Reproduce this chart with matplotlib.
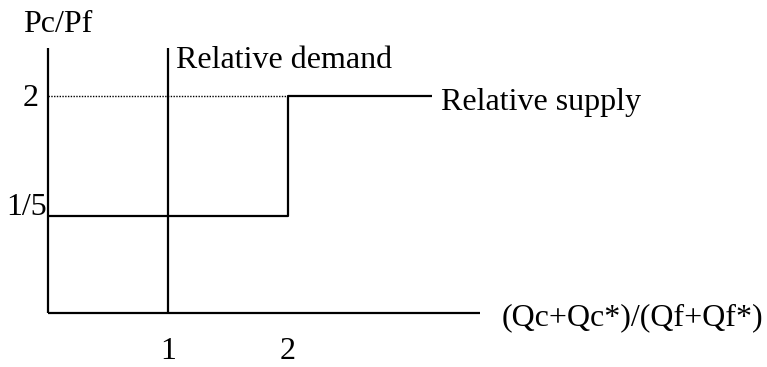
import matplotlib.pyplot as plt

# Diagram values (plotting positions, not to scale)
price_labels = ["1/5", "2"]
price_pos = [0.81, 1.81]
qty_labels = ["1", "2"]
qty_pos = [1.0, 2.0]

demand_q = 1.0          # relative demand is vertical at 1
supply_x = [0.0, 2.0, 2.0, 3.2]
supply_y = [price_pos[0], price_pos[0], price_pos[1], price_pos[1]]

plt.rcParams['font.family'] = ['Liberation Serif', 'DejaVu Serif']

fig = plt.figure(figsize=(7.67, 3.67), dpi=100)
ax = fig.add_axes([0, 0, 1, 1])
ax.set_xlim(-0.4, 5.99)
ax.set_ylim(-0.45, 2.608)
ax.axis('off')

fs = 23
lw = 1.6

# axes of the diagram
ax.plot([0, 0], [0, 2.21], color='black', lw=lw, solid_capstyle='butt')
ax.plot([0, 3.6], [0, 0], color='black', lw=lw, solid_capstyle='butt')

# dotted guide at the upper price
ax.plot([0, qty_pos[1]], [price_pos[1], price_pos[1]], color='black',
        lw=1.0, linestyle=(0, (1, 1)))

# relative demand and supply
ax.plot([demand_q, demand_q], [0, 2.21], color='black', lw=lw,
        solid_capstyle='butt')
ax.plot(supply_x, supply_y, color='black', lw=lw, solid_capstyle='butt')

# labels
ax.text(-0.21, 2.342, "Pc/Pf", fontsize=fs, ha='left', va='baseline')
ax.text(-0.075, 1.725, price_labels[1], fontsize=fs, ha='right', va='baseline')
ax.text(-0.01, 0.817, price_labels[0], fontsize=fs, ha='right', va='baseline')
for lab, x in zip(qty_labels, qty_pos):
    ax.text(x, -0.38, lab, fontsize=fs, ha='center', va='baseline')

ax.text(1.07, 2.042, "Relative demand", fontsize=fs, ha='left', va='baseline')
ax.text(3.27, 1.69, "Relative supply", fontsize=fs, ha='left', va='baseline')
ax.text(3.78, -0.1, "(Qc+Qc*)/(Qf+Qf*)", fontsize=fs, ha='left', va='baseline')

fig.savefig('out.png', dpi=100)
